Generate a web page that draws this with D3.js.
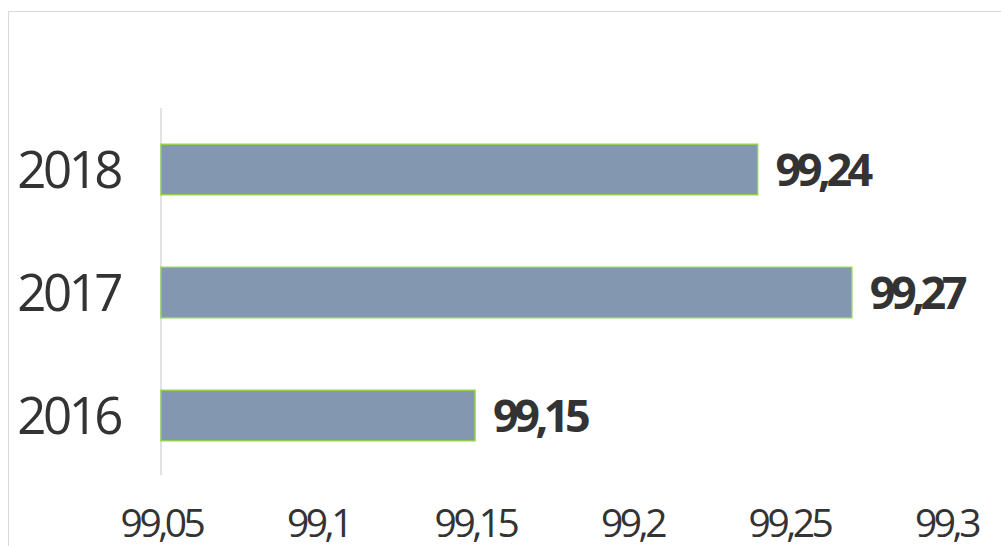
<!DOCTYPE html>
<html><head><meta charset="utf-8">
<script src="https://cdn.jsdelivr.net/npm/d3@7"></script>
<style>html,body{margin:0;padding:0;background:#fff;overflow:hidden}</style>
</head><body>
<svg id="c" width="1001" height="546"></svg>
<script>
const categories = ["2018", "2017", "2016"];
const values = [99.24, 99.27, 99.15];
const tickValues = [99.05, 99.1, 99.15, 99.2, 99.25, 99.3];
const tickLabels = ["99,05", "99,1", "99,15", "99,2", "99,25", "99,3"];

const svg = d3.select("#c");
const font = "'Open Sans', 'Noto Sans', sans-serif";

svg.append("rect").attr("x", 8.5).attr("y", 11.5).attr("width", 1000).attr("height", 600)
  .attr("fill", "#fff").attr("stroke", "#d9d9d9").attr("stroke-width", 1);

const x = d3.scaleLinear().domain([99.05, 99.3]).range([161, 946]);
const y = d3.scaleBand().domain(categories).range([108, 477]).paddingInner(0.59).paddingOuter(0.295);

// vertical axis line
svg.append("line").attr("x1", 161).attr("x2", 161).attr("y1", 108).attr("y2", 475)
  .attr("stroke", "#d9d9d9").attr("stroke-width", 1.5);

svg.selectAll("rect.bar").data(categories).enter().append("rect").attr("class", "bar")
  .attr("x", x(99.05)).attr("y", d => y(d))
  .attr("width", (d, i) => x(values[i]) - x(99.05)).attr("height", y.bandwidth())
  .attr("fill", "#8497B0").attr("stroke", "#92D050").attr("stroke-width", 1.5);

// category labels
const yAxis = d3.axisLeft(y).tickSize(0).tickPadding(0);
const ya = svg.append("g").attr("transform", "translate(120,0)").call(yAxis);
ya.select(".domain").remove();
ya.selectAll("text").attr("font-family", font).attr("font-size", 51).attr("fill", "#333")
  .attr("letter-spacing", "-3.5px").attr("dy", "0.36em");

// value labels
svg.selectAll("text.val").data(categories).enter().append("text").attr("class", "val")
  .attr("x", (d, i) => x(values[i]) + 18).attr("y", d => y(d) + y.bandwidth() / 2)
  .attr("dy", "0.36em").attr("font-family", font).attr("font-weight", "bold")
  .attr("font-size", 45).attr("fill", "#333").attr("letter-spacing", "-4.5px")
  .text((d, i) => String(values[i]).replace(".", ","));

// x axis ticks
const xAxis = d3.axisBottom(x).tickValues(tickValues).tickSize(0).tickPadding(0)
  .tickFormat((d, i) => tickLabels[i]);
const xa = svg.append("g").attr("transform", "translate(0,523)").call(xAxis);
xa.select(".domain").remove();
xa.selectAll("text").attr("font-family", font).attr("font-size", 39).attr("fill", "#333")
  .attr("letter-spacing", "-3.5px").attr("dy", "0.36em");
</script>
</body></html>
